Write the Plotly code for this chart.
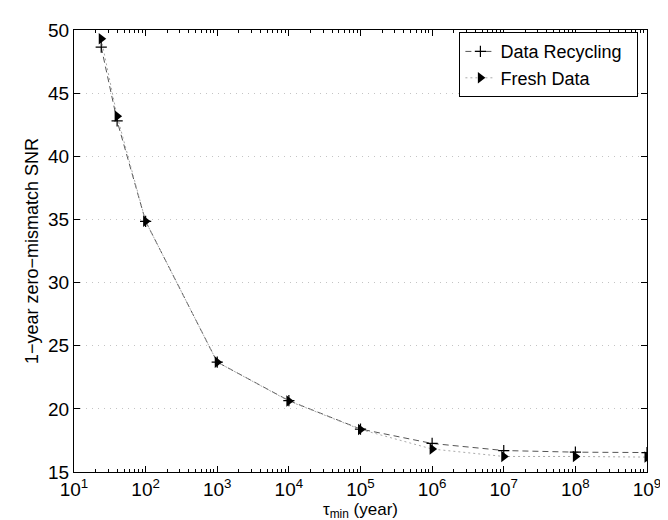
import plotly.graph_objects as go

tau_min = [24, 40, 1e2, 1e3, 1e4, 1e5, 1e6, 1e7, 1e8, 1e9]
snr_recycling = [48.65, 42.8, 34.85, 23.7, 20.65, 18.4, 17.26, 16.70, 16.57, 16.54]
snr_fresh = [49.3, 43.18, 34.85, 23.7, 20.62, 18.37, 16.82, 16.23, 16.23, 16.18]

x_tick_vals = [1e1, 1e2, 1e3, 1e4, 1e5, 1e6, 1e7, 1e8, 1e9]
x_tick_text = ["10<sup>1</sup>", "10<sup>2</sup>", "10<sup>3</sup>", "10<sup>4</sup>", "10<sup>5</sup>",
               "10<sup>6</sup>", "10<sup>7</sup>", "10<sup>8</sup>", "10<sup>9</sup>"]
y_tick_vals = [15, 20, 25, 30, 35, 40, 45, 50]

minor_vals = [m * 10 ** k for k in range(1, 9) for m in range(2, 10)]

fig = go.Figure()
fig.add_trace(go.Scatter(
    x=tau_min, y=snr_recycling, name="Data Recycling  ", mode="lines+markers",
    line=dict(color="#555555", width=1, dash="6px,4px"),
    marker=dict(symbol="cross-thin", size=8, color="black", line=dict(color="black", width=1.2)),
))
fig.add_trace(go.Scatter(
    x=tau_min, y=snr_fresh, name="Fresh Data", mode="lines+markers",
    line=dict(color="#aaaaaa", width=1, dash="2px,3px"),
    marker=dict(symbol="triangle-right", size=10, color="black"),
))

font_family = "Liberation Sans, Arial, Helvetica, sans-serif"
fig.update_layout(
    width=668, height=520,
    margin=dict(l=66, r=29, t=13, b=56),
    paper_bgcolor="white", plot_bgcolor="white",
    font=dict(family=font_family, size=18, color="black"),
    showlegend=True,
    legend=dict(x=0.985, y=0.995, xanchor="right", yanchor="top",
                bordercolor="black", borderwidth=1, bgcolor="white",
                font=dict(size=18), tracegroupgap=0, itemwidth=30),
    xaxis=dict(
        type="log", range=[1, 9],
        tickvals=x_tick_vals, ticktext=x_tick_text,
        ticks="inside", ticklen=6, tickcolor="black",
        showline=True, linecolor="black", linewidth=1, mirror="ticks",
        showgrid=False, zeroline=False,
        minor=dict(tickvals=minor_vals, ticks="inside", ticklen=3, tickcolor="black", showgrid=False),
        tickfont=dict(size=19),
        title=dict(text="τ<sub>min</sub> (year)", font=dict(size=17), standoff=0),
    ),
    yaxis=dict(
        range=[15, 50], tickvals=y_tick_vals,
        ticks="inside", ticklen=6, tickcolor="black",
        showline=True, linecolor="black", linewidth=1, mirror="ticks",
        showgrid=True, gridcolor="#c4c4c4", griddash="1px,5px", gridwidth=1,
        zeroline=False,
        tickfont=dict(size=19),
        title=dict(text="1−year zero−mismatch SNR", font=dict(size=18), standoff=4),
    ),
)

fig.write_html("out.html")
